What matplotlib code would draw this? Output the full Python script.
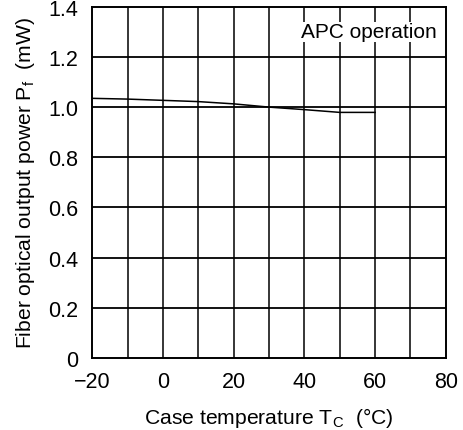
import matplotlib

matplotlib.use("Agg")
import matplotlib.pyplot as plt
import numpy as np

# curve (case temperature, output power)
temp_c = [-20, -10, 0, 10, 20, 30, 40, 50, 60]
power_mw = [1.035, 1.032, 1.027, 1.022, 1.013, 1.000, 0.990, 0.979, 0.979]

x_ticks = [-20, 0, 20, 40, 60, 80]
x_labels = ["\u221220", "0", "20", "40", "60", "80"]
y_ticks = [0, 0.2, 0.4, 0.6, 0.8, 1.0, 1.2, 1.4]
y_labels = ["0", "0.2", "0.4", "0.6", "0.8", "1.0", "1.2", "1.4"]

plt.rcParams["font.family"] = ["Liberation Sans", "DejaVu Sans"]
plt.rcParams["mathtext.fontset"] = "custom"
plt.rcParams["mathtext.rm"] = "Liberation Sans"
plt.rcParams["mathtext.it"] = "Liberation Sans"

fig = plt.figure(figsize=(4.63, 4.31), dpi=100)
ax = fig.add_axes([0.199, 0.167, 0.764, 0.815])

ax.set_xlim(-20, 80)
ax.set_ylim(0, 1.4)

for xv in np.arange(-10, 80, 10):
    ax.axvline(xv, color="black", lw=1.1, zorder=1)
for yv in np.arange(0.2, 1.4, 0.2):
    ax.axhline(yv, color="black", lw=1.3, zorder=1)

ax.plot(temp_c, power_mw, color="black", lw=1.1, zorder=2)

ax.set_xticks(x_ticks, x_labels)
ax.set_yticks(y_ticks, y_labels)
ax.tick_params(length=0, labelsize=15.5)
ax.tick_params(axis="x", pad=9)
ax.tick_params(axis="y", pad=10)
for s in ax.spines.values():
    s.set_linewidth(1.4)

ax.set_xlabel("Case temperature T$_\\mathrm{C}$  (\u00b0C)", fontsize=15.2, labelpad=10)
ax.set_ylabel("Fiber optical output power P$_\\mathrm{f}$  (mW)", fontsize=15.2, labelpad=8)

ax.text(77.5, 1.30, "APC operation", ha="right", va="center", fontsize=15,
        bbox=dict(facecolor="white", edgecolor="none", pad=0.5))

fig.savefig("out.png", dpi=100)
